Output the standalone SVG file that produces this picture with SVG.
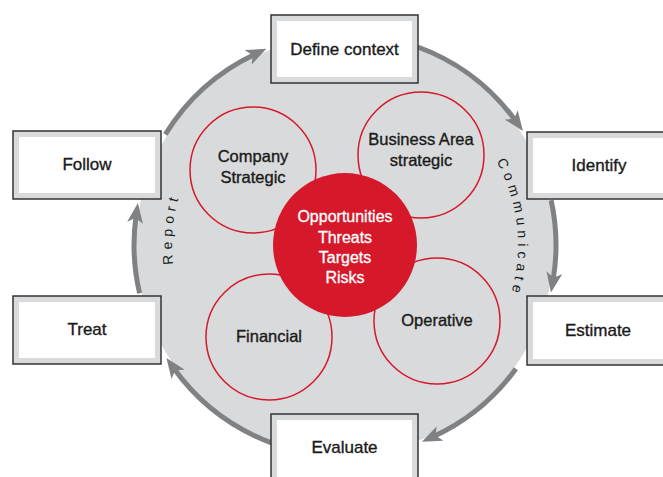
<svg xmlns="http://www.w3.org/2000/svg" width="663" height="477" viewBox="0 0 663 477">
<style>
.box{fill:#d9dadb;stroke:#333;stroke-width:1.5}
.inner{fill:#fff}
.lbl{font-family:"Liberation Sans",Arial,sans-serif;font-size:17px;fill:#1a1a1a;stroke:#1a1a1a;stroke-width:0.35px;text-anchor:middle}
.clbl{font-family:"Liberation Sans",Arial,sans-serif;font-size:16.5px;fill:#1a1a1a;stroke:#1a1a1a;stroke-width:0.35px;text-anchor:middle}
.wlbl{font-family:"Liberation Sans",Arial,sans-serif;font-size:16px;fill:#fff;stroke:#fff;stroke-width:0.3px;text-anchor:middle}
.ring{fill:none;stroke:#d6182b;stroke-width:1.5}
.arc{fill:none;stroke:#808184;stroke-width:5}
.side{font-family:"Liberation Sans",Arial,sans-serif;font-size:14px;fill:#1a1a1a;letter-spacing:4.8px}
</style>
<defs>
<marker id="ah" viewBox="0 0 20 16" refX="8" refY="8" markerWidth="20" markerHeight="16" markerUnits="userSpaceOnUse" orient="auto">
<path d="M0,0 L20,8 L0,16 L5,8 Z" fill="#808184"/>
</marker>
<path id="pReport" d="M187.8,317.3 A173,173 0 0 1 203.8,145.0"/>
<path id="pComm" d="M485.1,143.6 A173,173 0 0 1 502.9,315.6"/>
</defs>
<rect width="663" height="477" fill="#fff"/>
<circle id="disc" cx="345" cy="245" r="209" fill="#d9dadb"/>
<g id="connectors">
<path class="arc" marker-end="url(#ah)" d="M165.3,134.4 A211,211 0 0 1 255.5,53.9"/>
<path class="arc" marker-end="url(#ah)" d="M417.9,47.0 A211,211 0 0 1 515.9,121.3"/>
<path class="arc" marker-end="url(#ah)" d="M551.1,200.1 A211,211 0 0 1 553.0,280.6"/>
<path class="arc" marker-end="url(#ah)" d="M515.9,368.7 A211,211 0 0 1 432.8,436.8"/>
<path class="arc" marker-end="url(#ah)" d="M271.4,442.8 A211,211 0 0 1 173.4,367.8"/>
<path class="arc" marker-end="url(#ah)" d="M139.6,293.2 A211,211 0 0 1 136.2,214.9"/>
</g>
<text class="side"><textPath href="#pReport" startOffset="50%" text-anchor="middle">Report</textPath></text>
<text class="side"><textPath href="#pComm" startOffset="50%" text-anchor="middle">Communicate</textPath></text>
<g id="company">
<circle class="ring" cx="253" cy="170" r="63"/>
<text class="clbl" x="253" y="162">Company</text>
<text class="clbl" x="253" y="183">Strategic</text>
</g>
<g id="business">
<circle class="ring" cx="421" cy="155" r="63"/>
<text class="clbl" x="421" y="145">Business Area</text>
<text class="clbl" x="421" y="166">strategic</text>
</g>
<g id="financial">
<circle class="ring" cx="269" cy="337" r="63"/>
<text class="clbl" x="269" y="342">Financial</text>
</g>
<g id="operative">
<circle class="ring" cx="437" cy="321" r="63"/>
<text class="clbl" x="437" y="326">Operative</text>
</g>
<g id="center">
<circle cx="345" cy="245" r="72" fill="#d6182b"/>
<text class="wlbl" x="345" y="222">Opportunities</text>
<text class="wlbl" x="345" y="243">Threats</text>
<text class="wlbl" x="345" y="263">Targets</text>
<text class="wlbl" x="345" y="283">Risks</text>
</g>
<g id="define">
<rect class="box" x="271" y="15" width="147" height="68"/>
<rect class="inner" x="277" y="21" width="135" height="56"/>
<text class="lbl" x="344.5" y="55">Define context</text>
</g>
<g id="identify">
<rect class="box" x="527" y="132" width="150" height="67"/>
<rect class="inner" x="533" y="138" width="144" height="55"/>
<text class="lbl" x="599" y="171">Identify</text>
</g>
<g id="estimate">
<rect class="box" x="527" y="296" width="150" height="69"/>
<rect class="inner" x="533" y="302" width="144" height="57"/>
<text class="lbl" x="598" y="336">Estimate</text>
</g>
<g id="evaluate">
<rect class="box" x="271" y="414" width="147" height="70"/>
<rect class="inner" x="277" y="420" width="135" height="64"/>
<text class="lbl" x="344.5" y="453">Evaluate</text>
</g>
<g id="treat">
<rect class="box" x="13" y="296" width="148" height="68"/>
<rect class="inner" x="19" y="302" width="136" height="56"/>
<text class="lbl" x="87" y="335">Treat</text>
</g>
<g id="follow">
<rect class="box" x="13" y="131" width="148" height="68"/>
<rect class="inner" x="19" y="137" width="136" height="56"/>
<text class="lbl" x="87" y="170">Follow</text>
</g>
</svg>
